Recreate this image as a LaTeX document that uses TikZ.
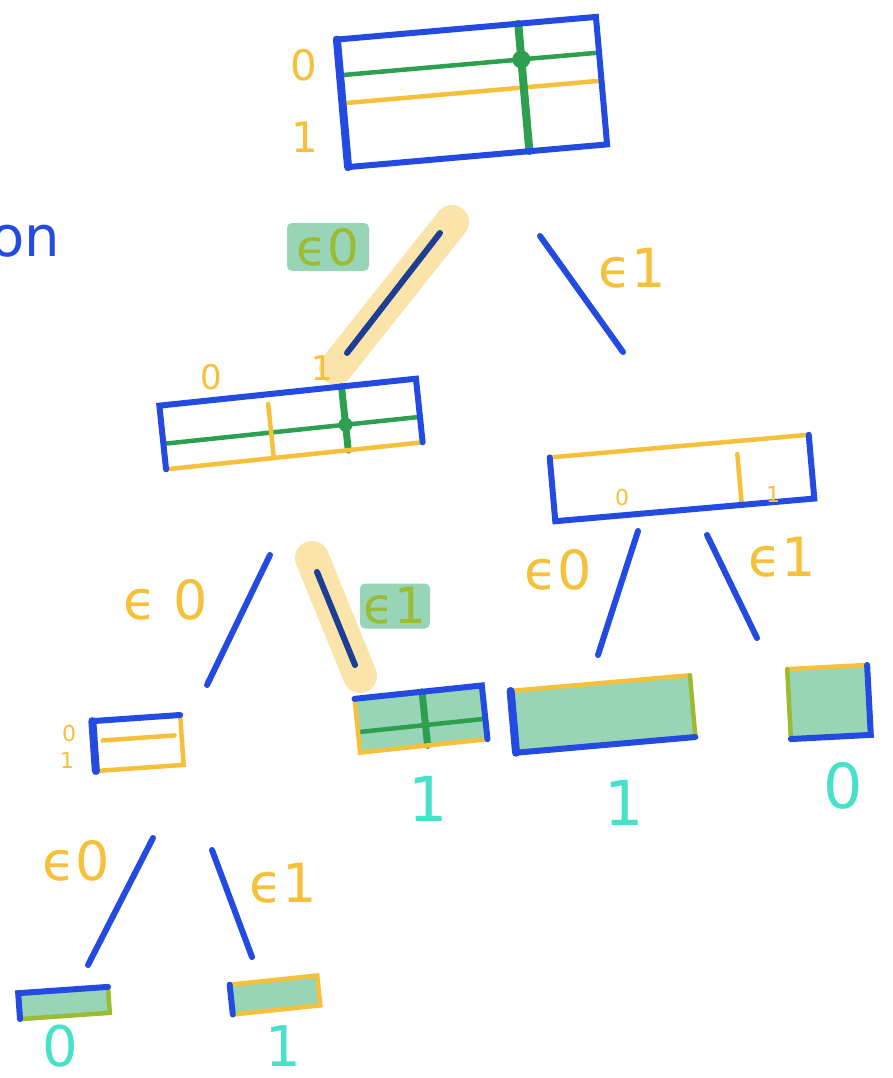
\documentclass[tikz,border=0pt]{standalone}
\usepackage{fontspec}
\setmainfont{DejaVu Sans}
\usepackage{tikz}
\usetikzlibrary{calc}
\usepackage{xcolor}
\definecolor{penblue}{RGB}{35,75,225}
\definecolor{darkblue}{RGB}{30,62,150}
\definecolor{pengreen}{RGB}{45,160,80}
\definecolor{penyellow}{RGB}{246,192,58}
\definecolor{glowyellow}{RGB}{250,228,170}
\definecolor{cellgreen}{RGB}{152,212,182}
\definecolor{olive}{RGB}{155,188,50}
\definecolor{leafteal}{RGB}{70,225,200}

\begin{document}
\begin{tikzpicture}[x=1pt, y=-1pt,
  cell/.style={rectangle, draw=none, inner sep=0pt, outer sep=0pt},
  blueside/.style={penblue, line width=6pt, line cap=round},
  yelside/.style={penyellow, line width=4.5pt, line cap=round},
  oliveside/.style={olive, line width=4.5pt, line cap=round},
  greenpen/.style={pengreen, line width=4.5pt, line cap=round},
  edge/.style={penblue, line width=6pt, line cap=round},
  picked/.style={darkblue, line width=6pt, line cap=round},
  glow/.style={glowyellow, line width=34pt, line cap=round},
  tag/.style={fill=cellgreen, rounded corners=5pt, text=olive, inner sep=1pt,
    font=\fontsize{50}{50}\selectfont},
  lab/.style={text=penyellow, inner sep=0pt, font=\fontsize{54}{54}\selectfont},
  idx/.style={text=penyellow, inner sep=0pt, font=\fontsize{42}{42}\selectfont},
  tinyidx/.style={text=penyellow, inner sep=0pt, font=\fontsize{22}{22}\selectfont},
  leaf/.style={text=leafteal, inner sep=0pt, font=\fontsize{62}{62}\selectfont}]
\useasboundingbox (0,0) rectangle (892,1078);
\fill[white] (0,0) rectangle (892,1078);

% cut-off word on the left
\node[text=penblue, anchor=base east, inner sep=0pt, font=\fontsize{56}{56}\selectfont] (word) at (60,256) {on};

% root table
\node[cell, minimum width=260pt, minimum height=128pt, rotate=5] (root) at (472,92) {};
\coordinate (rg0) at ($(root.north west)!0.28!(root.south west)$);
\coordinate (rg1) at ($(root.north east)!0.28!(root.south east)$);
\draw[greenpen] (rg0) -- (rg1);
\draw[yelside] ($(root.north west)!0.5!(root.south west)$) -- ($(root.north east)!0.5!(root.south east)$);
\draw[greenpen, line width=8pt] ($(root.north west)!0.7!(root.north east)$) -- ($(root.south west)!0.7!(root.south east)$);
\fill[pengreen] ($(rg0)!0.7!(rg1)$) circle (9pt);
\draw[blueside] (root.south west) -- (root.north west) -- (root.north east) -- (root.south east) -- cycle;
\draw[blueside, line width=8pt] (root.south west) -- (root.north west);
\node[idx] (r0) at (304,65) {0};
\node[idx] (r1) at (305,137) {1};

% edges below the root
\coordinate (root-a) at (440,233);
\coordinate (left-a) at (347,353);
\coordinate (root-b) at (540,236);
\coordinate (right-b) at (623,352);
\draw[glow] (452,222) -- (336,368);
\draw[picked] (root-a) -- (left-a);
\draw[edge] (root-b) -- (right-b);
\node[tag, minimum width=82pt, minimum height=48pt] (t1) at (328,247) {ϵ0};
\node[lab] (l1) at (632,268) {ϵ1};

% left table
\node[cell, minimum width=258pt, minimum height=64pt, rotate=6] (left) at (291,424) {};
\coordinate (lg0) at ($(left.north west)!0.6!(left.south west)$);
\coordinate (lg1) at ($(left.north east)!0.6!(left.south east)$);
\draw[greenpen] (lg0) -- (lg1);
\draw[yelside] ($($(left.north west)!0.42!(left.north east)$)!0.15!($(left.south west)!0.42!(left.south east)$)$) -- ($(left.south west)!0.42!(left.south east)$);
\draw[greenpen, line width=7pt] ($(left.north west)!0.71!(left.north east)$) -- ($(left.south west)!0.71!(left.south east)$);
\fill[pengreen] ($(lg0)!0.71!(lg1)$) circle (7pt);
\draw[yelside] (left.south west) -- (left.south east);
\draw[blueside] (left.south west) -- (left.north west) -- (left.north east) -- (left.south east);
\node[idx, font=\fontsize{34}{34}\selectfont] (lt0) at (211,377) {0};
\node[idx, font=\fontsize{34}{34}\selectfont] (lt1) at (322,368) {1};

% right table
\node[cell, minimum width=260pt, minimum height=64pt, rotate=5] (right) at (682,478) {};
\draw[yelside] ($($(right.north west)!0.72!(right.north east)$)!0.2!($(right.south west)!0.72!(right.south east)$)$) -- ($(right.south west)!0.72!(right.south east)$);
\draw[yelside] (right.north west) -- (right.north east);
\draw[blueside] (right.north west) -- (right.south west) -- (right.south east) -- (right.north east);
\node[tinyidx] (rt0) at (622,497) {0};
\node[tinyidx] (rt1) at (773,494) {1};

% edges below the left table
\coordinate (left-c) at (270,555);
\coordinate (ll-c) at (207,685);
\coordinate (left-d) at (317,572);
\coordinate (lr-d) at (355,665);
\draw[edge] (left-c) -- (ll-c);
\draw[glow] (312,558) -- (360,676);
\draw[picked] (left-d) -- (lr-d);
\node[lab] (l2) at (166,600) {ϵ 0};
\node[tag, minimum width=70pt, minimum height=45pt] (t2) at (395,606) {ϵ1};

% edges below the right table
\coordinate (right-e) at (638,531);
\coordinate (rl-e) at (598,655);
\coordinate (right-f) at (707,535);
\coordinate (rr-f) at (757,638);
\draw[edge] (right-e) -- (rl-e);
\draw[edge] (right-f) -- (rr-f);
\node[lab] (l3) at (558,570) {ϵ0};
\node[lab] (l4) at (782,557) {ϵ1};

% table ll
\node[cell, minimum width=88pt, minimum height=50pt, rotate=4] (ll) at (138,743) {};
\draw[yelside] ($($(ll.north west)!0.4!(ll.south west)$)!0.1!($(ll.north east)!0.4!(ll.south east)$)$) -- ($($(ll.north west)!0.4!(ll.south west)$)!0.92!($(ll.north east)!0.4!(ll.south east)$)$);
\draw[yelside] (ll.south west) -- (ll.south east) -- (ll.north east);
\draw[blueside] (ll.north east) -- (ll.north west) -- (ll.south west);
\draw[blueside, line width=8pt] (ll.north west) -- (ll.south west);
\node[tinyidx] (llt0) at (69,733) {0};
\node[tinyidx] (llt1) at (67,760) {1};

% table lr
\node[cell, fill=cellgreen, minimum width=128pt, minimum height=54pt, rotate=6] (lr) at (421,719) {};
\draw[greenpen] ($(lr.north west)!0.62!(lr.south west)$) -- ($(lr.north east)!0.62!(lr.south east)$);
\draw[greenpen, line width=7pt] ($(lr.north west)!0.53!(lr.north east)$) -- ($(lr.south west)!0.53!(lr.south east)$);
\draw[yelside] (lr.north west) -- (lr.south west) -- (lr.south east);
\draw[blueside] (lr.north west) -- (lr.north east) -- (lr.south east);
\node[leaf] (v1) at (428,799) {1};

% table rl
\node[cell, fill=cellgreen, minimum width=180pt, minimum height=62pt, rotate=5] (rl) at (603,714) {};
\draw[yelside] (rl.north west) -- (rl.north east);
\draw[oliveside] (rl.north east) -- (rl.south east);
\draw[blueside] (rl.north west) -- (rl.south west) -- (rl.south east);
\draw[blueside, line width=8pt] (rl.north west) -- (rl.south west);
\node[leaf] (v2) at (624,803) {1};

% table rr
\node[cell, fill=cellgreen, minimum width=80pt, minimum height=70pt, rotate=3] (rr) at (829,702) {};
\draw[yelside] (rr.north west) -- (rr.north east);
\draw[oliveside] (rr.north west) -- (rr.south west);
\draw[blueside] (rr.north east) -- (rr.south east) -- (rr.south west);
\node[leaf] (v3) at (843,786) {0};

% edges below table ll
\coordinate (ll-g) at (153,838);
\coordinate (lll-g) at (88,965);
\coordinate (ll-h) at (212,850);
\coordinate (llr-h) at (252,957);
\draw[edge] (ll-g) -- (lll-g);
\draw[edge] (ll-h) -- (llr-h);
\node[lab] (l5) at (76,861) {ϵ0};
\node[lab] (l6) at (283,883) {ϵ1};

% table lll
\node[cell, fill=cellgreen, minimum width=90pt, minimum height=26pt, rotate=4] (lll) at (64,1003) {};
\draw[oliveside] (lll.north east) -- (lll.south east) -- (lll.south west);
\draw[blueside] (lll.south west) -- (lll.north west) -- (lll.north east);
\node[leaf, font=\fontsize{56}{56}\selectfont] (v4) at (60,1046) {0};

% table llr
\node[cell, fill=cellgreen, minimum width=88pt, minimum height=30pt, rotate=6] (llr) at (275,995) {};
\draw[yelside] (llr.north west) -- (llr.north east) -- (llr.south east) -- (llr.south west);
\draw[blueside] (llr.north west) -- (llr.south west);
\node[leaf, font=\fontsize{56}{56}\selectfont] (v5) at (283,1046) {1};
\end{tikzpicture}
\end{document}
